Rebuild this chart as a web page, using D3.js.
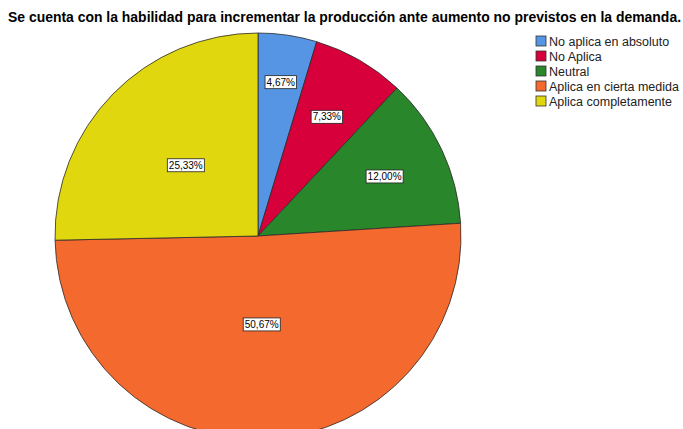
<!DOCTYPE html>
<html>
<head>
<meta charset="utf-8">
<script src="https://cdn.jsdelivr.net/npm/d3@7"></script>
<style>
  body { margin: 0; background: #fff; }
  svg { display: block; font-family: "Liberation Sans", Arial, sans-serif; }
</style>
</head>
<body>
<div id="chart"></div>
<script>
// pie chart: habilidad para incrementar la producción

var title = "Se cuenta con la habilidad para incrementar la producción ante aumento no previstos en la demanda.";
var categories = ["No aplica en absoluto", "No Aplica", "Neutral", "Aplica en cierta medida", "Aplica completamente"];
var percents = [4.67, 7.33, 12.00, 50.67, 25.33];
var percentLabels = ["4,67%", "7,33%", "12,00%", "50,67%", "25,33%"];
var colors = ["#5595e3", "#d7003a", "#2a862a", "#f4692d", "#e1d70f"];

// where SPSS drops each label, as a share of the radius
var labelRadius = [0.766, 0.678, 0.689, 0.436, 0.498];

var param = {
    width: 683,
    height: 429,
    cx: 258,
    cy: 236,
    r: 203
};

var svg = d3.select("#chart").append("svg")
    .attr("width", param.width)
    .attr("height", param.height);

svg.append("text")
    .attr("x", 8)
    .attr("y", 22)
    .attr("font-size", "14px")
    .attr("font-weight", "bold")
    .attr("fill", "#000")
    .attr("textLength", 673)
    .attr("lengthAdjust", "spacingAndGlyphs")
    .text(title);

var pie = d3.pie().sort(null).value(function(d){ return d; });
var arc = d3.arc().innerRadius(0).outerRadius(param.r);
var arcs = pie(percents);

var g = svg.append("g").attr("transform", "translate(" + param.cx + "," + param.cy + ")");

g.selectAll("path.slice")
    .data(arcs)
    .enter().append("path")
    .attr("class", "slice")
    .attr("d", arc)
    .attr("fill", function(d, i){ return colors[i]; })
    .attr("stroke", "#2b2b2b")
    .attr("stroke-width", 0.8)
    .attr("stroke-linejoin", "round");

// labels
var lab = g.selectAll("g.lab")
    .data(arcs)
    .enter().append("g")
    .attr("class", "lab")
    .attr("transform", function(d, i){
	var a = (d.startAngle + d.endAngle) / 2;
	var rr = param.r * labelRadius[i];
	return "translate(" + (Math.sin(a) * rr) + "," + (-Math.cos(a) * rr) + ")";
    });

lab.append("text")
    .attr("text-anchor", "middle")
    .attr("dy", "0.35em")
    .attr("font-size", "10px")
    .attr("fill", "#000")
    .text(function(d, i){ return percentLabels[i]; })
    .each(function(){
	var b = this.getBBox();
	d3.select(this.parentNode).insert("rect", "text")
	    .attr("x", b.x - 1.5)
	    .attr("y", -6.5)
	    .attr("width", b.width + 3)
	    .attr("height", 13)
	    .attr("fill", "#fff")
	    .attr("stroke", "#222")
	    .attr("stroke-width", 0.8);
    });

// legend
var leg = svg.append("g").attr("transform", "translate(536,36)");
var row = leg.selectAll("g")
    .data(categories)
    .enter().append("g")
    .attr("transform", function(d, i){ return "translate(0," + (i * 15) + ")"; });

row.append("rect")
    .attr("width", 10)
    .attr("height", 10)
    .attr("fill", function(d, i){ return colors[i]; })
    .attr("stroke", "#333")
    .attr("stroke-width", 0.8);

row.append("text")
    .attr("x", 13)
    .attr("y", 9.5)
    .attr("font-size", "12.5px")
    .attr("fill", "#222")
    .text(function(d){ return d; });
</script>
</body>
</html>
